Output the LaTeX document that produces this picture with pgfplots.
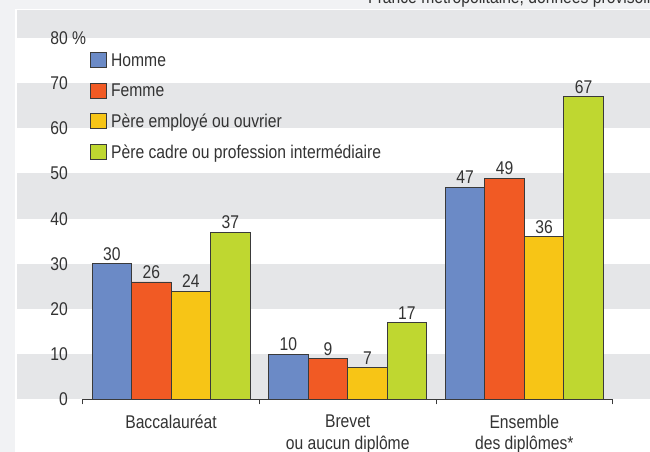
\documentclass[border=0pt]{standalone}
\usepackage{fontspec}
\setmainfont{Liberation Sans}[FakeStretch=0.85]
\usepackage{pgfplots}
\pgfplotsset{compat=1.18}
\definecolor{homme}{HTML}{6B8AC6}
\definecolor{femme}{HTML}{F15A24}
\definecolor{employe}{HTML}{F7C516}
\definecolor{cadre}{HTML}{BFD730}
\definecolor{band}{HTML}{E5E6E8}
\definecolor{framegray}{HTML}{F1F2F4}
\definecolor{txt}{HTML}{333333}
\definecolor{barline}{HTML}{3A3A3A}
\begin{document}
\fontsize{18.5}{21.5}\selectfont
\begin{tikzpicture}[x=1bp,y=1bp,text=txt]
\path[use as bounding box] (0,0) rectangle (650,452);
\fill[white] (0,0) rectangle (650,452);
\fill[framegray] (0,0) rectangle (15,452);
\fill[framegray] (0,442.7) rectangle (650,452);
\node[anchor=base west,inner sep=0pt,text=txt] at (368,448) {France métropolitaine, données provisoires};
\begin{axis}[
  axis on top,
  at={(17bp,52.5bp)}, anchor=south west,
  scale only axis, width=640bp, height=389.5bp,
  xmin=-0.872, xmax=2.751, ymin=0, ymax=86.17,
  clip=false,
  axis lines*=left,
  axis line style={draw=none},
  ybar=0pt, bar width=39.5bp,
  /pgf/number format/assume math mode=true,
  xtick={0,1,2},
  xticklabels={Baccalauréat,{Brevet\\ou aucun diplôme},{Ensemble\\des diplômes*}},
  minor xtick={-0.5,0.5,1.5,2.5},
  ytick={0,10,20,30,40,50,60,70,80},
  yticklabels={0,10,20,30,40,50,60,70,{80\rlap{\ \%}}},
  major tick length=0pt,
  minor tick length=5bp,
  tick align=outside,
  xtick pos=left, ytick pos=left,
  tick style={color=barline, line width=0.9bp},
  xticklabel style={align=center, anchor=north, inner sep=0pt, yshift=-15bp, text=txt, font=\fontsize{18.5}{22}\selectfont},
  yticklabel style={anchor=east, inner sep=0pt, xshift=51bp, text=txt},
  nodes near coords,
  nodes near coords style={anchor=south, inner sep=0pt, yshift=3bp, text=txt},
  every axis plot/.append style={draw=barline, line width=0.9bp},
  legend image code/.code={\draw[#1] (0bp,-1.3bp) rectangle (15.5bp,14bp);},
  legend style={draw=none, fill=none, at={(axis description cs:0.1141,0.893)}, anchor=north west,
    inner sep=0pt, column sep=4.5bp, row sep=12.2bp,
    cells={anchor=base west},
    nodes={inner sep=0pt, text height=14.3bp, text depth=4bp, text=txt}},
]
\fill[band] (axis cs:-0.872,0) rectangle (axis cs:2.751,10);
\fill[band] (axis cs:-0.872,20) rectangle (axis cs:2.751,30);
\fill[band] (axis cs:-0.872,40) rectangle (axis cs:2.751,50);
\fill[band] (axis cs:-0.872,60) rectangle (axis cs:2.751,70);
\fill[band] (axis cs:-0.872,80) rectangle (axis cs:2.751,86.17);
\addplot[fill=homme] coordinates {(0,30) (1,10) (2,47)};
\addplot[fill=femme] coordinates {(0,26) (1,9) (2,49)};
\addplot[fill=employe] coordinates {(0,24) (1,7) (2,36)};
\addplot[fill=cadre] coordinates {(0,37) (1,17) (2,67)};
\legend{Homme,Femme,Père employé ou ouvrier,Père cadre ou profession intermédiaire}
\draw[barline, line width=1bp] (axis cs:-0.5,0) -- (axis cs:2.5,0);
\end{axis}
\end{tikzpicture}
\end{document}
